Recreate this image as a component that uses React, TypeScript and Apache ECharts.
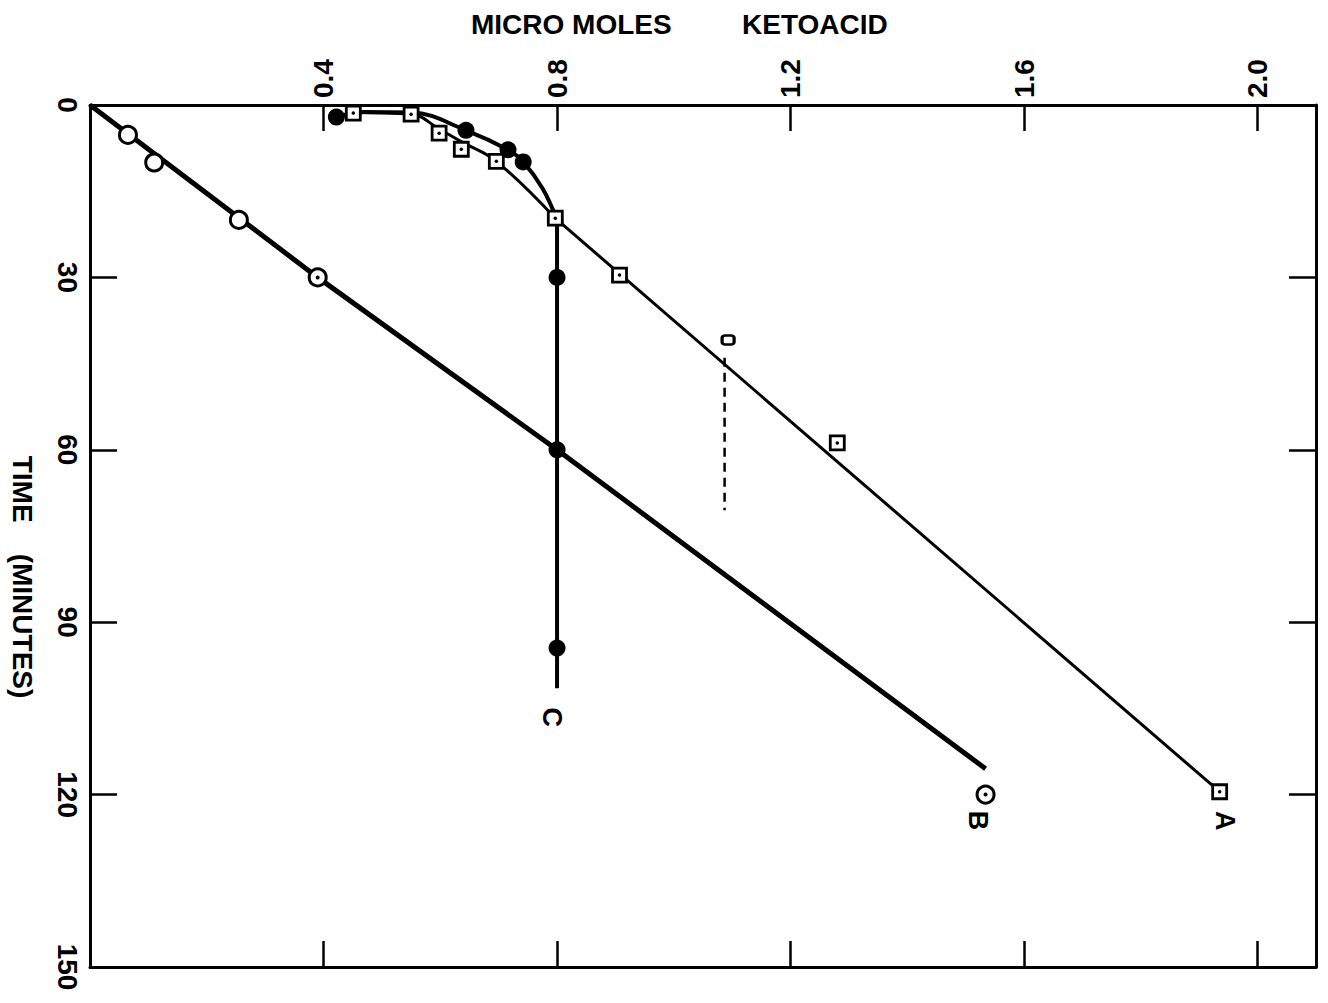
import React, { useEffect, useRef } from "react";
import * as echarts from "echarts";

// Axis tick values
const ketoTicks = [0.4, 0.8, 1.2, 1.6, 2.0];
const timeTicks = [0, 30, 60, 90, 120, 150];

// Observed points: [micromoles ketoacid, time in minutes]
const squaresA = [
  [0.451, 1.4], [0.55, 1.6], [0.598, 4.9], [0.636, 7.7], [0.696, 9.8],
  [0.797, 19.7], [0.907, 29.6], [1.28, 58.8], [1.935, 119.5],
];
const circlesB = [[0.065, 5.2], [0.11, 10], [0.255, 20], [0.39, 30], [1.534, 120]];
const dottedTimesB = [30, 120];
const circlesC = [
  [0.422, 2.1], [0.644, 4.4], [0.716, 7.8], [0.742, 9.9],
  [0.8, 30], [0.8, 60], [0.8, 94.5],
];
const markerD = [[1.093, 40.9]];

// Hand-drawn curves through the points
const curveA = [[0.45, 1.3], [0.55, 1.6], [0.6, 4.3], [0.64, 6.6], [0.696, 9.8], [0.797, 19.7]];
const trendA = [[0.797, 19.7], [1.935, 119.5]];
const lineB = [[0, 0], [0.39, 30], [0.8, 60], [1.534, 115.5]];
const curveC = [
  [0.422, 2.1], [0.47, 1.2], [0.55, 1.3], [0.644, 4.4], [0.716, 7.8],
  [0.742, 9.9], [0.775, 14.5], [0.8, 20],
];
const stemC = [[0.8, 20], [0.8, 101.5]];
const dashedD = [[1.087, 44], [1.087, 70.5]];

const FONT = "'Liberation Sans', Arial, sans-serif";
const INK = "#000";

export default function App() {
  const ref = useRef<HTMLDivElement>(null);

  useEffect(() => {
    document.body.style.margin = "0";
    const chart = echarts.init(ref.current!, null, { renderer: "svg" });

    const axisLine = { show: true, onZero: false, lineStyle: { color: INK, width: 3 } };
    const tick = (len: number) => ({
      show: true,
      inside: true,
      length: len,
      lineStyle: { color: INK, width: 2.5 },
    });
    const labelFont = { fontFamily: FONT, fontWeight: "bold", fontSize: 28, color: INK };
    const hollow = (bw: number) => ({ color: "#fff", borderColor: INK, borderWidth: bw, opacity: 1 });
    const solid = { color: INK, opacity: 1 };

    chart.setOption({
      animation: false,
      backgroundColor: "#fff",
      grid: { left: 90, right: 12, top: 105, bottom: 36 },
      xAxis: [
        {
          type: "value",
          position: "top",
          min: 0,
          max: 2.1,
          interval: 0.4,
          axisLine,
          axisTick: tick(26),
          splitLine: { show: false },
          axisLabel: {
            ...labelFont,
            rotate: -90,
            margin: 7,
            formatter: (v: number) =>
              ketoTicks.some((t) => Math.abs(t - v) < 1e-6) ? v.toFixed(1) : "",
          },
        },
        {
          type: "value",
          position: "bottom",
          min: 0,
          max: 2.1,
          interval: 0.4,
          axisLine,
          axisTick: tick(26),
          splitLine: { show: false },
          axisLabel: { show: false },
        },
      ],
      yAxis: [
        {
          type: "value",
          position: "left",
          inverse: true,
          min: 0,
          max: 150,
          interval: 30,
          axisLine,
          axisTick: tick(27),
          splitLine: { show: false },
          axisLabel: {
            ...labelFont,
            rotate: -90,
            margin: 9,
            formatter: (v: number) => (timeTicks.includes(v) ? String(v) : ""),
          },
        },
        {
          type: "value",
          position: "right",
          inverse: true,
          min: 0,
          max: 150,
          interval: 30,
          axisLine,
          axisTick: tick(27),
          splitLine: { show: false },
          axisLabel: { show: false },
        },
      ],
      series: [
        {
          type: "line",
          data: lineB,
          symbol: "none",
          lineStyle: { color: INK, width: 5 },
          z: 2,
        },
        {
          type: "line",
          data: curveA,
          smooth: 0.4,
          symbol: "none",
          lineStyle: { color: INK, width: 3 },
          z: 2,
        },
        {
          type: "line",
          data: trendA,
          symbol: "none",
          lineStyle: { color: INK, width: 3 },
          z: 2,
        },
        {
          type: "line",
          data: curveC,
          smooth: 0.4,
          symbol: "none",
          lineStyle: { color: INK, width: 4 },
          z: 2,
        },
        {
          type: "line",
          data: stemC,
          symbol: "none",
          lineStyle: { color: INK, width: 4 },
          z: 2,
        },
        {
          type: "line",
          data: dashedD,
          symbol: "none",
          lineStyle: { color: INK, width: 2.5, type: [9, 6] },
          z: 2,
        },
        {
          type: "scatter",
          data: squaresA,
          symbol: "rect",
          symbolSize: 14,
          itemStyle: hollow(2.8),
          z: 5,
        },
        {
          type: "scatter",
          data: squaresA,
          symbol: "circle",
          symbolSize: 3.5,
          itemStyle: solid,
          z: 6,
        },
        {
          type: "scatter",
          data: circlesB,
          symbol: "circle",
          symbolSize: 17,
          itemStyle: hollow(3),
          z: 5,
        },
        {
          type: "scatter",
          data: circlesB.filter((p) => dottedTimesB.includes(p[1])),
          symbol: "circle",
          symbolSize: 4,
          itemStyle: solid,
          z: 6,
        },
        {
          type: "scatter",
          data: circlesC,
          symbol: "circle",
          symbolSize: 17,
          itemStyle: solid,
          z: 5,
        },
        {
          type: "scatter",
          data: markerD,
          symbol: "roundRect",
          symbolSize: [12, 9],
          itemStyle: hollow(2.8),
          z: 5,
        },
      ],
    });

    // Curve letters placed next to the end point of each curve
    const toPx = (p: number[]) =>
      chart.convertToPixel({ xAxisIndex: 0, yAxisIndex: 0 }, p) as number[];
    const endA = toPx(squaresA[squaresA.length - 1]);
    const endB = toPx(circlesB[circlesB.length - 1]);
    const endC = toPx(stemC[stemC.length - 1]);
    const letter = (text: string, p: number[], dx: number, dy: number) => ({
      type: "text",
      x: p[0] + dx,
      y: p[1] + dy,
      rotation: -Math.PI / 2,
      style: {
        text,
        font: `bold 27px ${FONT}`,
        fill: INK,
        align: "center",
        verticalAlign: "middle",
      },
    });

    chart.setOption({
      graphic: [
        {
          type: "text",
          x: 471,
          y: 24,
          style: {
            text: "MICRO MOLES",
            font: `bold 28px ${FONT}`,
            fill: INK,
            align: "left",
            verticalAlign: "middle",
          },
        },
        {
          type: "text",
          x: 742,
          y: 24,
          style: {
            text: "KETOACID",
            font: `bold 28px ${FONT}`,
            fill: INK,
            align: "left",
            verticalAlign: "middle",
          },
        },
        {
          type: "text",
          x: 22,
          y: 577,
          rotation: -Math.PI / 2,
          style: {
            text: "TIME    (MINUTES)",
            font: `bold 28px ${FONT}`,
            fill: INK,
            align: "center",
            verticalAlign: "middle",
          },
        },
        letter("A", endA, 5, 29),
        letter("B", endB, -8, 26),
        letter("C", endC, -5, 29),
      ],
    });

    return () => chart.dispose();
  }, []);

  return <div ref={ref} style={{ width: 1328, height: 1003 }} />;
}
